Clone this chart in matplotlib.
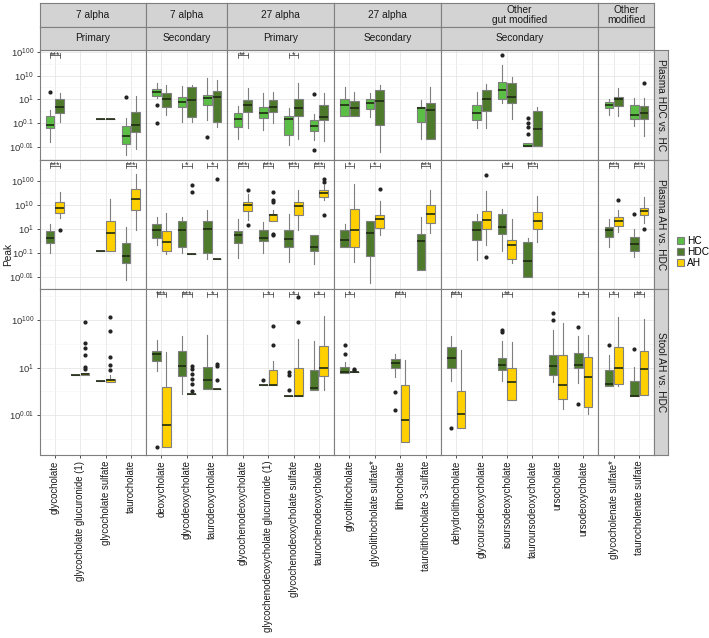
import matplotlib
matplotlib.use("Agg")
import matplotlib.pyplot as plt
from matplotlib.patches import Patch

plt.rcParams['font.family'] = ['Liberation Sans', 'DejaVu Sans']
plt.rcParams['mathtext.fontset'] = 'custom'
plt.rcParams['mathtext.rm'] = 'Liberation Sans'

# facets (columns)
families = ["7 alpha", "7 alpha", "27 alpha", "27 alpha", "Other\ngut modified", "Other\nmodified"]
classes = ["Primary", "Secondary", "Primary", "Secondary", "Secondary", ""]
compounds = [
    ["glycocholate", "glycocholate glucuronide (1)", "glycocholate sulfate", "taurocholate"],
    ["deoxycholate", "glycodeoxycholate", "taurodeoxycholate"],
    ["glycochenodeoxycholate", "glycochenodeoxycholate glucuronide (1)",
     "glycochenodeoxycholate sulfate", "taurochenodeoxycholate"],
    ["glycolithocholate", "glycolithocholate sulfate*", "lithocholate", "taurolithocholate 3-sulfate"],
    ["dehydrolithocholate", "glycoursodeoxycholate", "isoursodeoxycholate",
     "tauroursodeoxycholate", "ursocholate", "ursodeoxycholate"],
    ["glycocholenate sulfate*", "taurocholenate sulfate"],
]
comparisons = ["Plasma HDC vs. HC", "Plasma AH vs. HDC", "Stool AH vs. HDC"]
groups = ["HC", "HDC", "AH"]
colors = {"HC": "#5cbf45", "HDC": "#4e7a2b", "AH": "#ffd000"}

# y axis: tick position i <-> label i (evenly spaced, doubly-log style)
ytick_labels = ["$10^{0.01}$", "$10^{0.1}$", "$10^{1}$", "$10^{10}$", "$10^{100}$"]
row_ylims = [(-0.56, 4.07), (-0.52, 4.88), (-1.67, 5.29)]

# box stats per group, in axis units: [whisker low, q1, median, q3, whisker high]
plasma_hc = {
    "glycocholate": [0.21, 0.78, 0.92, 1.30, 1.55],
    "glycocholate sulfate": [1.16, 1.16, 1.16, 1.16, 1.16],
    "taurocholate": [-0.35, 0.11, 0.45, 0.87, 1.20],
    "deoxycholate": [2.05, 2.15, 2.32, 2.42, 2.70],
    "glycodeoxycholate": [1.03, 1.66, 1.90, 2.11, 2.56],
    "taurodeoxycholate": [1.12, 1.75, 2.04, 2.18, 2.89],
    "glycochenodeoxycholate": [0.35, 0.84, 1.17, 1.41, 1.72],
    "glycochenodeoxycholate glucuronide (1)": [0.70, 1.20, 1.41, 1.69, 2.28],
    "glycochenodeoxycholate sulfate": [0.07, 0.52, 1.16, 1.30, 1.62],
    "taurochenodeoxycholate": [0.31, 0.68, 0.90, 1.13, 1.37],
    "glycolithocholate": [1.32, 1.32, 1.76, 2.00, 2.50],
    "glycolithocholate sulfate*": [1.27, 1.59, 1.83, 2.01, 2.28],
    "taurolithocholate 3-sulfate": [0.35, 1.05, 1.62, 1.69, 1.97],
    "glycoursodeoxycholate": [0.78, 1.13, 1.41, 1.76, 2.32],
    "isoursodeoxycholate": [1.83, 2.03, 2.39, 2.72, 3.42],
    "tauroursodeoxycholate": [0.03, 0.03, 0.03, 0.15, 0.15],
    "glycocholenate sulfate*": [1.33, 1.62, 1.76, 1.87, 2.01],
    "taurocholenate sulfate": [0.89, 1.16, 1.33, 1.76, 2.07],
}
plasma_hc_out = {
    "glycocholate": [2.30], "taurocholate": [2.11], "deoxycholate": [1.75, 1.01],
    "taurodeoxycholate": [0.42], "taurochenodeoxycholate": [2.21, -0.11],
    "isoursodeoxycholate": [3.87], "tauroursodeoxycholate": [1.20, 1.01, 0.84, 0.56],
}
plasma_hdc = {
    "glycocholate": [1.03, 1.43, 1.69, 2.00, 2.25],
    "glycocholate sulfate": [1.16, 1.16, 1.16, 1.16, 1.16],
    "taurocholate": [-0.10, 0.61, 0.92, 1.46, 2.14],
    "deoxycholate": [1.34, 1.66, 2.01, 2.28, 2.60],
    "glycodeoxycholate": [1.03, 1.27, 1.97, 2.51, 2.60],
    "taurodeoxycholate": [0.82, 1.05, 2.08, 2.36, 2.80],
    "glycochenodeoxycholate": [0.80, 1.45, 1.76, 1.97, 2.46],
    "glycochenodeoxycholate glucuronide (1)": [0.99, 1.48, 1.66, 1.97, 2.32],
    "glycochenodeoxycholate sulfate": [0.35, 1.31, 1.65, 2.00, 2.67],
    "taurochenodeoxycholate": [0.25, 1.13, 1.27, 1.76, 2.28],
    "glycolithocholate": [1.32, 1.32, 1.62, 1.93, 2.29],
    "glycolithocholate sulfate*": [-0.21, 0.92, 1.93, 2.39, 2.60],
    "taurolithocholate 3-sulfate": [0.32, 0.32, 1.55, 1.83, 2.51],
    "glycoursodeoxycholate": [0.78, 1.52, 2.00, 2.39, 2.65],
    "isoursodeoxycholate": [1.16, 1.86, 2.11, 2.70, 2.93],
    "tauroursodeoxycholate": [0.03, 0.03, 0.75, 1.51, 1.66],
    "glycocholenate sulfate*": [1.30, 1.72, 2.00, 2.11, 2.49],
    "taurocholenate sulfate": [0.46, 1.16, 1.41, 1.72, 2.07],
}
plasma_hdc_out = {"taurocholenate sulfate": [2.68]}

plasma2_hdc = {
    "glycocholate": [1.00, 1.40, 1.63, 1.93, 2.19],
    "glycocholate sulfate": [1.09, 1.09, 1.09, 1.09, 1.09],
    "taurocholate": [-0.14, 0.58, 0.88, 1.40, 2.10],
    "deoxycholate": [1.31, 1.61, 1.97, 2.22, 2.50],
    "glycodeoxycholate": [0.98, 1.23, 1.94, 2.33, 2.50],
    "taurodeoxycholate": [0.75, 1.00, 2.01, 2.33, 2.78],
    "glycochenodeoxycholate": [0.77, 1.40, 1.73, 1.93, 2.43],
    "glycochenodeoxycholate glucuronide (1)": [0.98, 1.49, 1.61, 1.94, 2.29],
    "glycochenodeoxycholate sulfate": [0.60, 1.23, 1.59, 1.94, 2.64],
    "taurochenodeoxycholate": [0.53, 1.07, 1.23, 1.73, 1.73],
    "glycolithocholate": [1.26, 1.26, 1.55, 1.97, 2.22],
    "glycolithocholate sulfate*": [-0.28, 0.88, 1.84, 2.33, 2.33],
    "taurolithocholate 3-sulfate": [0.28, 0.28, 1.49, 1.80, 2.50],
    "glycoursodeoxycholate": [0.70, 1.52, 1.94, 2.33, 2.64],
    "isoursodeoxycholate": [1.09, 1.80, 2.08, 2.64, 2.85],
    "tauroursodeoxycholate": [-0.03, -0.03, 0.67, 1.44, 1.63],
    "glycocholenate sulfate*": [1.23, 1.68, 1.94, 2.08, 2.40],
    "taurocholenate sulfate": [0.84, 1.09, 1.38, 1.66, 2.01],
}
plasma2_hdc_out = {"taurocholenate sulfate": [2.64]}
plasma2_ah = {
    "glycocholate": [2.48, 2.68, 2.89, 3.13, 3.55],
    "glycocholate sulfate": [1.09, 1.09, 1.82, 2.32, 3.24],
    "taurocholate": [1.94, 2.81, 3.24, 3.69, 4.29],
    "deoxycholate": [0.96, 1.07, 1.44, 1.91, 2.68],
    "glycodeoxycholate": [0.96, 0.96, 0.96, 0.96, 0.96],
    "taurodeoxycholate": [0.75, 0.75, 0.75, 0.75, 0.75],
    "glycochenodeoxycholate": [2.36, 2.74, 2.99, 3.13, 3.49],
    "glycochenodeoxycholate glucuronide (1)": [2.32, 2.32, 2.57, 2.64, 2.81],
    "glycochenodeoxycholate sulfate": [1.97, 2.57, 2.95, 3.13, 3.65],
    "taurochenodeoxycholate": [3.23, 3.34, 3.51, 3.62, 3.83],
    "glycolithocholate": [0.60, 1.23, 1.94, 2.85, 3.90],
    "glycolithocholate sulfate*": [1.73, 2.03, 2.43, 2.57, 3.17],
    "taurolithocholate 3-sulfate": [1.84, 2.24, 2.64, 2.99, 3.65],
    "glycoursodeoxycholate": [1.31, 2.01, 2.36, 2.74, 3.58],
    "isoursodeoxycholate": [0.58, 0.75, 1.31, 1.55, 2.43],
    "tauroursodeoxycholate": [1.44, 1.98, 2.32, 2.71, 3.37],
    "glycocholenate sulfate*": [1.87, 2.12, 2.33, 2.50, 2.78],
    "taurocholenate sulfate": [2.24, 2.57, 2.74, 2.89, 3.34],
}
plasma2_ah_out = {
    "glycocholate": [1.97], "glycodeoxycholate": [3.83, 3.55], "taurodeoxycholate": [4.08],
    "glycochenodeoxycholate": [3.65, 2.18],
    "glycochenodeoxycholate glucuronide (1)": [3.55, 3.20, 3.13, 1.80, 1.73],
    "taurochenodeoxycholate": [4.08, 3.97, 2.60], "glycolithocholate sulfate*": [3.69],
    "glycoursodeoxycholate": [4.25, 0.81], "glycocholenate sulfate*": [3.20],
    "taurocholenate sulfate": [2.01],
}

stool_hdc = {
    "glycocholate glucuronide (1)": [1.67, 1.67, 1.67, 1.67, 1.67],
    "glycocholate sulfate": [1.42, 1.42, 1.42, 1.42, 1.42],
    "deoxycholate": [1.85, 2.29, 2.57, 2.68, 3.15],
    "glycodeoxycholate": [0.88, 1.63, 2.08, 2.71, 3.33],
    "taurodeoxycholate": [1.11, 1.11, 1.46, 2.01, 3.36],
    "glycochenodeoxycholate glucuronide (1)": [1.25, 1.25, 1.25, 1.25, 1.25],
    "glycochenodeoxycholate sulfate": [0.80, 0.80, 0.80, 0.80, 0.80],
    "taurochenodeoxycholate": [1.04, 1.04, 1.15, 1.90, 3.13],
    "glycolithocholate": [1.76, 1.76, 1.80, 2.04, 2.22],
    "lithocholate": [1.60, 1.99, 2.20, 2.36, 2.57],
    "dehydrolithocholate": [1.42, 1.97, 2.40, 2.85, 3.33],
    "isoursodeoxycholate": [1.42, 1.88, 2.11, 2.40, 3.13],
    "ursocholate": [1.39, 1.67, 2.08, 2.54, 3.58],
    "ursodeoxycholate": [1.36, 1.97, 2.11, 2.60, 3.33],
    "glycocholenate sulfate*": [1.21, 1.21, 1.32, 1.88, 2.54],
    "taurocholenate sulfate": [0.80, 0.80, 0.80, 1.43, 2.01],
}
stool_hdc_out = {
    "deoxycholate": [-1.35], "glycochenodeoxycholate glucuronide (1)": [1.46],
    "glycochenodeoxycholate sulfate": [1.83, 1.67, 1.07], "glycolithocholate": [2.96, 2.57],
    "lithocholate": [0.97, 0.21], "dehydrolithocholate": [-0.55],
    "isoursodeoxycholate": [3.58, 3.50], "ursocholate": [4.28, 4.00],
    "ursodeoxycholate": [3.68, 0.49], "glycocholenate sulfate*": [2.95],
    "taurocholenate sulfate": [2.78],
}
stool_ah = {
    "glycocholate glucuronide (1)": [1.67, 1.67, 1.71, 1.78, 1.78],
    "glycocholate sulfate": [1.39, 1.39, 1.46, 1.53, 1.67],
    "deoxycholate": [-1.35, -1.35, -0.42, 1.18, 2.64],
    "glycodeoxycholate": [0.88, 0.88, 0.88, 0.88, 0.88],
    "taurodeoxycholate": [1.11, 1.11, 1.11, 1.11, 1.11],
    "glycochenodeoxycholate glucuronide (1)": [1.25, 1.25, 1.25, 1.90, 2.29],
    "glycochenodeoxycholate sulfate": [0.80, 0.80, 0.80, 1.98, 3.19],
    "taurochenodeoxycholate": [1.07, 1.63, 1.99, 2.92, 4.17],
    "glycolithocholate": [1.80, 1.80, 1.80, 1.80, 1.80],
    "lithocholate": [-1.14, -1.14, -0.21, 1.28, 2.32],
    "dehydrolithocholate": [-0.55, -0.55, 0.03, 1.01, 2.75],
    "isoursodeoxycholate": [0.63, 0.63, 1.39, 1.97, 3.05],
    "ursocholate": [0.28, 0.70, 1.25, 2.53, 3.85],
    "ursodeoxycholate": [0.07, 0.35, 1.60, 2.46, 3.36],
    "glycocholenate sulfate*": [1.21, 1.32, 1.99, 2.88, 4.13],
    "taurocholenate sulfate": [0.83, 0.83, 1.95, 2.71, 4.05],
}
stool_ah_out = {
    "glycocholate glucuronide (1)": [3.89, 3.01, 2.82, 2.54, 2.01, 1.94],
    "glycocholate sulfate": [4.10, 3.54, 2.43, 2.11, 1.90],
    "glycodeoxycholate": [2.08, 1.94, 1.74, 1.53, 1.32, 1.01],
    "taurodeoxycholate": [2.15, 2.08, 1.46],
    "glycochenodeoxycholate glucuronide (1)": [3.75, 2.96],
    "glycochenodeoxycholate sulfate": [3.89, 4.96],
    "glycolithocholate": [1.94, 1.88],
}

sig_plasma_hdc_hc = {"glycocholate": "***", "glycochenodeoxycholate": "**",
                     "glycochenodeoxycholate sulfate": "*"}
sig_plasma_ah_hdc = {
    "glycocholate": "***", "taurocholate": "***", "glycodeoxycholate": "*",
    "taurodeoxycholate": "*", "glycochenodeoxycholate": "***",
    "glycochenodeoxycholate glucuronide (1)": "***", "glycochenodeoxycholate sulfate": "***",
    "taurochenodeoxycholate": "***", "glycolithocholate": "*", "glycolithocholate sulfate*": "*",
    "taurolithocholate 3-sulfate": "***", "isoursodeoxycholate": "**",
    "tauroursodeoxycholate": "***", "glycocholenate sulfate*": "***",
    "taurocholenate sulfate": "***",
}
sig_stool_ah_hdc = {
    "deoxycholate": "***", "glycodeoxycholate": "***", "taurodeoxycholate": "*",
    "glycochenodeoxycholate glucuronide (1)": "*", "glycochenodeoxycholate sulfate": "*",
    "taurochenodeoxycholate": "*", "glycolithocholate": "*", "lithocholate": "***",
    "dehydrolithocholate": "***", "isoursodeoxycholate": "**", "ursodeoxycholate": "*",
    "glycocholenate sulfate*": "*", "taurocholenate sulfate": "**",
}

rows = [
    (("HC", plasma_hc, plasma_hc_out), ("HDC", plasma_hdc, plasma_hdc_out), sig_plasma_hdc_hc),
    (("HDC", plasma2_hdc, plasma2_hdc_out), ("AH", plasma2_ah, plasma2_ah_out), sig_plasma_ah_hdc),
    (("HDC", stool_hdc, stool_hdc_out), ("AH", stool_ah, stool_ah_out), sig_stool_ah_hdc),
]

# ---- layout (pixels) ----
W, H = 709, 638
fig = plt.figure(figsize=(W / 100, H / 100), dpi=100)
px_left, px_right = 39.5, 654.3
px_top, px_bottom = 50.0, 455.0
strip1_top, strip2_top = 3.0, 26.5
rstrip_right = 668.0


def rect(x0, y0, x1, y1):
    return [x0 / W, 1 - y1 / H, (x1 - x0) / W, (y1 - y0) / H]


col_units = [len(c) + 0.2 for c in compounds]
px_per_x = (px_right - px_left) / sum(col_units)
col_x = [px_left]
for u in col_units:
    col_x.append(col_x[-1] + u * px_per_x)

row_units = [hi - lo for lo, hi in row_ylims]
px_per_y = (px_bottom - px_top) / sum(row_units)
row_y = [px_top]
for u in row_units:
    row_y.append(row_y[-1] + u * px_per_y)

edge = "#7f7f7f"
strip_face = "#d3d3d3"
grid_major = "#e6e6e6"
grid_minor = "#f3f3f3"
off = 0.19

for r, (g1, g2, sig) in enumerate(rows):
    lo, hi = row_ylims[r]
    if r == 2:
        majors = [0, 2, 4]
        minors = [-1, 1, 3, 5]
    else:
        majors = [0, 1, 2, 3, 4]
        minors = [-0.5, 0.5, 1.5, 2.5, 3.5, 4.5]
    for c, comps in enumerate(compounds):
        ax = fig.add_axes(rect(col_x[c], row_y[r], col_x[c + 1], row_y[r + 1]))
        n = len(comps)
        ax.set_xlim(-0.6, n - 1 + 0.6)
        ax.set_ylim(lo, hi)
        ax.set_facecolor("white")
        for x in range(n):
            ax.axvline(x, color=grid_major, lw=0.6, zorder=0)
        for y in majors:
            ax.axhline(y, color=grid_major, lw=0.6, zorder=0)
        for y in minors:
            ax.axhline(y, color=grid_minor, lw=0.4, zorder=0)
        for k, (grp, stats, outs) in enumerate((g1, g2)):
            bstats, pos = [], []
            for i, name in enumerate(comps):
                if name not in stats:
                    continue
                wl, q1, md, q3, wh = stats[name]
                bstats.append(dict(whislo=wl, q1=q1, med=md, q3=q3, whishi=wh,
                                   fliers=outs.get(name, [])))
                pos.append(i - off if k == 0 else i + off)
            if bstats:
                ax.bxp(bstats, positions=pos, widths=0.34, patch_artist=True,
                       showcaps=False, manage_ticks=False,
                       boxprops=dict(facecolor=colors[grp], edgecolor=edge, linewidth=0.8),
                       medianprops=dict(color="#1e2a12", linewidth=1.2),
                       whiskerprops=dict(color=edge, linewidth=0.8),
                       flierprops=dict(marker="o", markersize=2, markerfacecolor="#222222",
                                       markeredgecolor="#222222", linestyle="none"))
        # significance brackets
        yb = hi - 0.22
        for i, name in enumerate(comps):
            if name in sig:
                ax.plot([i - off, i + off], [yb, yb], color="#333333", lw=0.5)
                ax.plot([i - off, i - off], [yb - 0.1, yb + 0.1], color="#333333", lw=0.5)
                ax.plot([i + off, i + off], [yb - 0.1, yb + 0.1], color="#333333", lw=0.5)
                ax.text(i, yb + 0.02, sig[name], ha="center", va="center",
                        fontsize=6.5, color="#333333")
        for s in ax.spines.values():
            s.set_color(edge)
            s.set_linewidth(0.8)
        ax.tick_params(length=2.5, width=0.6, color="#333333", pad=1.5)
        if c == 0:
            ax.set_yticks(majors)
            ax.set_yticklabels([ytick_labels[m] for m in majors], fontsize=6.8, color="#333333")
        else:
            ax.set_yticks([])
        if r == 2:
            ax.set_xticks(range(n))
            ax.set_xticklabels(comps, rotation=90, fontsize=6.9, color="#1a1a1a",
                               ha="center", va="top")
        else:
            ax.set_xticks([])

# top strips
for c in range(len(compounds)):
    for (ya, yb_), txt in (((strip1_top, strip2_top), families[c]),
                           ((strip2_top, px_top), classes[c])):
        sax = fig.add_axes(rect(col_x[c], ya, col_x[c + 1], yb_))
        sax.set_facecolor(strip_face)
        sax.set_xticks([])
        sax.set_yticks([])
        for s in sax.spines.values():
            s.set_color(edge)
            s.set_linewidth(0.8)
        sax.text(0.5, 0.5, txt, ha="center", va="center", fontsize=7.3, color="#1a1a1a",
                 linespacing=0.95, transform=sax.transAxes)

# right strips
for r in range(3):
    sax = fig.add_axes(rect(px_right, row_y[r], rstrip_right, row_y[r + 1]))
    sax.set_facecolor(strip_face)
    sax.set_xticks([])
    sax.set_yticks([])
    for s in sax.spines.values():
        s.set_color(edge)
        s.set_linewidth(0.8)
    sax.text(0.5, 0.5, comparisons[r], ha="center", va="center", rotation=-90,
             fontsize=7.3, color="#1a1a1a", transform=sax.transAxes)

fig.text(8 / W, 1 - 255 / H, "Peak", rotation=90, ha="center", va="center",
         fontsize=7.3, color="#1a1a1a")

handles = [Patch(facecolor=colors[g], edgecolor=edge, linewidth=0.8, label=g) for g in groups]
fig.legend(handles=handles, loc="center left", bbox_to_anchor=(672 / W, 1 - 252 / H),
           frameon=False, fontsize=7.3, handlelength=0.7, handleheight=0.7,
           handletextpad=0.3, labelspacing=0.1, borderpad=0)

fig.savefig("out.png", dpi=100)
